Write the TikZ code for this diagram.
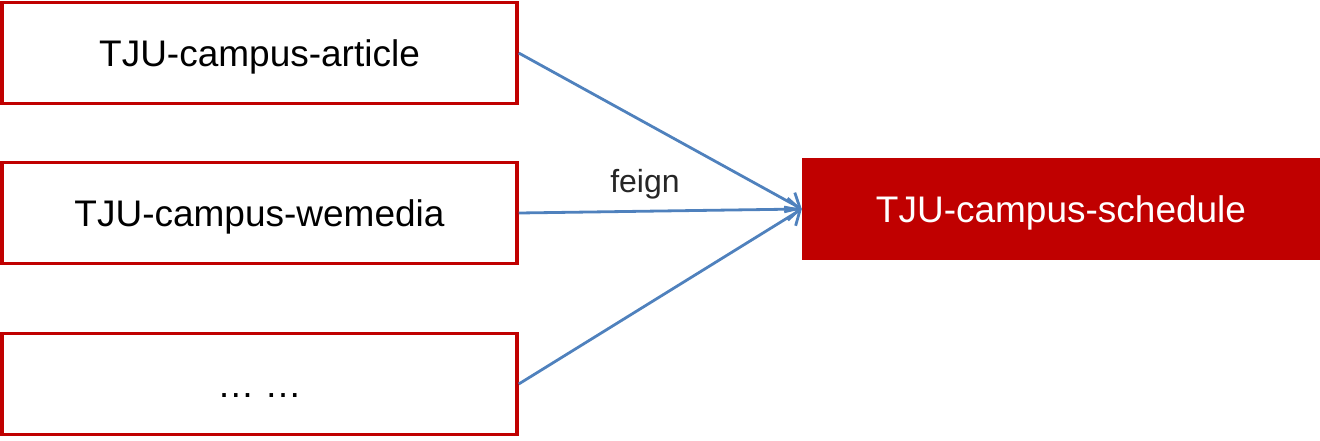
\documentclass[tikz,border=0pt]{standalone}
\usepackage{fontspec}
\setmainfont{Liberation Sans}
\usetikzlibrary{arrows.meta}
\definecolor{tjured}{HTML}{C00000}
\definecolor{linkblue}{HTML}{4F81BD}
\definecolor{labelgray}{HTML}{262626}
\begin{document}
\begin{tikzpicture}[x=1pt,y=-1pt,
  dienst/.style={draw=tjured,line width=3.5pt,minimum width=515pt,minimum height=101pt,inner sep=0pt,text height=27pt,text depth=0pt,font=\fontsize{37}{40}\selectfont},
  ziel/.style={fill=tjured,text=white,minimum width=518pt,minimum height=102pt,inner sep=0pt,text height=27pt,text depth=0pt,font=\fontsize{37}{40}\selectfont},
  pfeil/.style={linkblue,line width=2.8pt,-{Straight Barb[length=12pt,width=22pt,line width=2.8pt]}}]
\useasboundingbox (0,0) rectangle (1320,440);
\node [dienst] (article) at (259.5,53){TJU-campus-article};
\node [dienst] (wemedia) at (259.5,213){TJU-campus-wemedia};
\node [dienst] (dots) at (259.5,384){\dots\ \dots};
\node [ziel] (schedule) at (1061,209){TJU-campus-schedule};
\node [text=labelgray,font=\fontsize{32}{36}\selectfont] (feign) at (645,184){feign};
\draw [pfeil] (article.east) -- (schedule.west);
\draw [pfeil] (wemedia.east) -- (schedule.west);
\draw [pfeil] (dots.east) -- (schedule.west);
\end{tikzpicture}
\end{document}
